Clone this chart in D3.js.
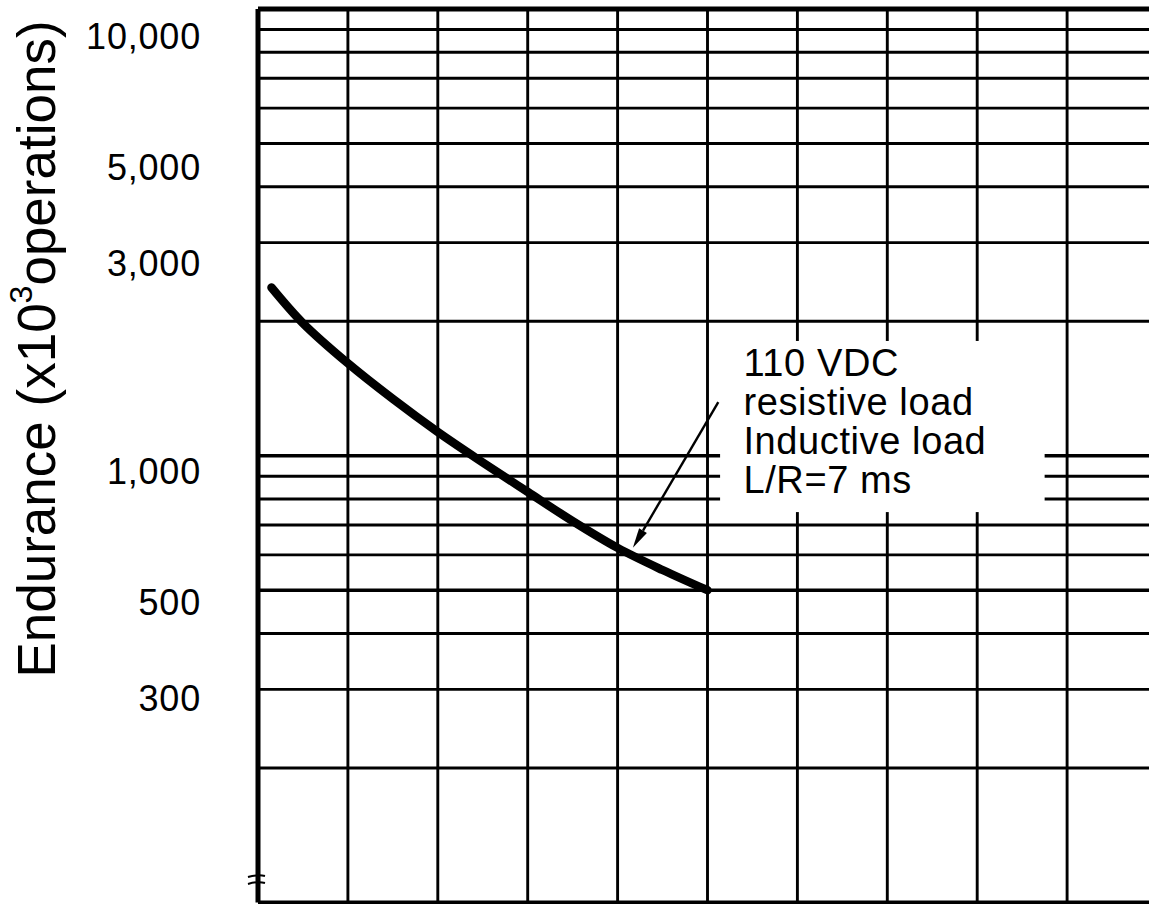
<!DOCTYPE html>
<html><head><meta charset="utf-8">
<script src="https://cdn.jsdelivr.net/npm/d3@7"></script>
<style>html,body{margin:0;padding:0;background:#fff;} svg{display:block;}</style>
</head><body>
<script>
// ---- data ----
const currentA  = [0.15, 0.5, 1, 1.5, 2, 2.5, 3, 3.5, 4, 4.5, 5];
const endurance = [2380, 1980, 1610, 1340, 1130, 966, 830, 714, 622, 555, 500];
const yTickLabels = [10000, 5000, 3000, 1000, 500, 300];
const yGridValues = [100,200,300,400,500,600,700,800,900,1000,2000,3000,4000,5000,6000,7000,8000,9000,10000];
const yGridHeavy = [1000, 500];
const xGridValues = [0,1,2,3,4,5,6,7,8,9,10];
const annotationLines = ["110 VDC", "resistive load", "Inductive load", "L/R=7 ms"];
const annotationAnchor = {x: 5.4, y: 1508};
const annotationBox = {x0: 5.14, x1: 8.75, y0: 1807, y1: 748};
const arrowFrom = {x: 5.12, y: 1319};
const arrowTo = {x: 4.17, y: 622};
const breakMarkValues = [114.6, 110.6];

const W = 1149, H = 904;
const svg = d3.select("body").append("svg").attr("width", W).attr("height", H)
  .style("background", "#fff");

const x = d3.scaleLinear().domain([0, 10]).range([258, 1157]);
const y = d3.scaleLog().domain([100, 10000]).range([902.5, 9]);
const yLabel = d3.scaleLog().domain([100, 10000]).range([905.5, 35.5]);

const FONT = "'Liberation Sans', Arial, Helvetica, sans-serif";

// horizontal grid
svg.append("g").selectAll("line").data(yGridValues).join("line")
  .attr("x1", x(0)).attr("x2", W)
  .attr("y1", d => y(d)).attr("y2", d => y(d))
  .attr("stroke", "#000")
  .attr("stroke-width", d => (d === 10000 ? 5 : d === 100 ? 4 : yGridHeavy.includes(d) ? 3.6 : 2.9));

// vertical grid
svg.append("g").selectAll("line").data(xGridValues).join("line")
  .attr("x1", d => x(d)).attr("x2", d => x(d))
  .attr("y1", y(10000)).attr("y2", y(100))
  .attr("stroke", "#000")
  .attr("stroke-width", d => d === 0 ? 5 : 2.9);

// axis break marks
svg.append("g").selectAll("path").data(breakMarkValues).join("path")
  .attr("d", d => `M${x(0) - 10},${y(d) + 1} Q${x(0)},${y(d) - 2} ${x(0) + 7},${y(d)}`)
  .attr("fill", "none").attr("stroke", "#000").attr("stroke-width", 2);

// annotation white box
svg.append("rect")
  .attr("x", x(annotationBox.x0)).attr("y", y(annotationBox.y0))
  .attr("width", x(annotationBox.x1) - x(annotationBox.x0))
  .attr("height", y(annotationBox.y1) - y(annotationBox.y0))
  .attr("fill", "#fff");

// curve
const line = d3.line().x(d => x(d[0])).y(d => y(d[1])).curve(d3.curveCatmullRom.alpha(0.5));
svg.append("path")
  .datum(currentA.map((c, i) => [c, endurance[i]]))
  .attr("d", line)
  .attr("fill", "none").attr("stroke", "#000").attr("stroke-width", 8.5)
  .attr("stroke-linecap", "round").attr("stroke-linejoin", "round");

// arrow
const ax0 = x(arrowFrom.x), ay0 = y(arrowFrom.y), ax1 = x(arrowTo.x), ay1 = y(arrowTo.y);
const len = Math.hypot(ax1 - ax0, ay1 - ay0);
const ux = (ax1 - ax0) / len, uy = (ay1 - ay0) / len;
const hl = 20, hw = 4.5;
const bx = ax1 - ux * hl, by = ay1 - uy * hl;
svg.append("line").attr("x1", ax0).attr("y1", ay0).attr("x2", bx).attr("y2", by)
  .attr("stroke", "#000").attr("stroke-width", 2.4);
svg.append("path")
  .attr("d", `M${ax1},${ay1} L${bx - uy * hw},${by + ux * hw} L${bx + uy * hw},${by - ux * hw} Z`)
  .attr("fill", "#000");

// annotation text
svg.append("text")
  .attr("x", x(annotationAnchor.x)).attr("y", y(annotationAnchor.y))
  .attr("font-family", FONT).attr("font-size", 38).attr("letter-spacing", 0.6)
  .attr("fill", "#000")
  .selectAll("tspan").data(annotationLines).join("tspan")
  .attr("x", x(annotationAnchor.x)).attr("dy", (d, i) => i === 0 ? 0 : 39)
  .text(d => d);

// y tick labels
const yAxis = d3.axisLeft(yLabel).tickValues(yTickLabels).tickFormat(d3.format(",")).tickSize(0).tickPadding(0);
const ga = svg.append("g").attr("transform", "translate(201,0)").call(yAxis);
ga.select(".domain").remove();
ga.selectAll("text").attr("font-family", FONT).attr("font-size", 36)
  .attr("letter-spacing", 0.8).attr("fill", "#000").attr("dy", "0.36em");

// y title
const title = svg.append("text")
  .attr("transform", "translate(55,349) rotate(-90)")
  .attr("text-anchor", "middle")
  .attr("font-family", FONT).attr("font-size", 53).attr("fill", "#000");
title.append("tspan").text("Endurance (x10");
title.append("tspan").attr("font-size", 32).attr("dy", -23).text("3");
title.append("tspan").attr("dy", 23).text("operations)");
</script>
</body></html>
